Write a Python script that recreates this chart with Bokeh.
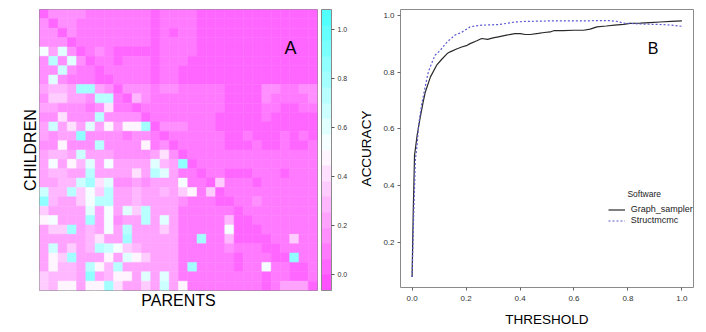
import numpy as np
from bokeh.plotting import figure
from bokeh.models import (LinearColorMapper, ColorBar, FixedTicker, Range1d, Label,
                          Legend, LegendItem, ColumnDataSource, PrintfTickFormatter)
from bokeh.transform import transform
from bokeh.layouts import row
from bokeh.embed import file_html
from bokeh.resources import INLINE

FONT = "Liberation Sans"

# ---------------- Panel A data: 30 x 30 matrix (rows = children, cols = parents) ----------------
heat_rows = [
    [0.0,0.14,0.14,0.14,0.14,0.12,0.12,0.12,0.12,0.12,0.12,0.12,0.06,0.1,0.1, 0.12,0.12,0.05,0.05,0.05,0.05,0.05,0.05,0.05,0.05,0.05,0.05,0.05,0.05,0.05],
    [0.14,0.0,0.14,0.14,0.12,0.12,0.1,0.1,0.1,0.1,0.1,0.1,0.06,0.1,0.1, 0.12,0.12,0.05,0.05,0.05,0.05,0.05,0.05,0.05,0.05,0.05,0.05,0.05,0.05,0.05],
    [0.14,0.14,0.0,0.14,0.12,0.12,0.1,0.1,0.1,0.1,0.1,0.1,0.05,0.1,0.05, 0.12,0.1,0.05,0.05,0.05,0.05,0.05,0.05,0.05,0.05,0.05,0.05,0.05,0.05,0.05],
    [0.15,0.15,0.15,0.0,0.12,0.1,0.1,0.1,0.1,0.1,0.1,0.1,0.05,0.1,0.1, 0.12,0.1,0.05,0.05,0.05,0.05,0.05,0.05,0.05,0.05,0.05,0.05,0.05,0.05,0.05],
    [0.55,0.2,0.6,0.15,0.02,0.08,0.15,0.1,0.05,0.05,0.05,0.05,0.05,0.08,0.08, 0.12,0.08,0.05,0.05,0.05,0.05,0.05,0.05,0.05,0.05,0.05,0.05,0.05,0.05,0.05],
    [0.15,0.7,0.15,0.6,0.15,0.02,0.1,0.12,0.05,0.1,0.12,0.1,0.05,0.1,0.1, 0.08,0.05,0.05,0.05,0.05,0.05,0.05,0.05,0.05,0.05,0.05,0.05,0.05,0.05,0.05],
    [0.15,0.15,0.68,0.15,0.12,0.1,0.02,0.1,0.1,0.1,0.1,0.1,0.05,0.1,0.1, 0.06,0.05,0.05,0.05,0.05,0.05,0.05,0.05,0.05,0.05,0.05,0.05,0.05,0.05,0.05],
    [0.15,0.58,0.15,0.12,0.1,0.1,0.05,0.02,0.1,0.1,0.1,0.1,0.05,0.1,0.1, 0.06,0.05,0.05,0.05,0.05,0.05,0.05,0.05,0.05,0.05,0.05,0.05,0.05,0.05,0.05],
    [0.25,0.28,0.28,0.25,0.8,0.8,0.2,0.15,0.02,0.15,0.15,0.15,0.1,0.15,0.15, 0.12,0.12,0.1,0.1,0.1,0.06,0.06,0.06,0.06,0.14,0.14,0.08,0.08,0.14,0.14],
    [0.15,0.32,0.32,0.2,0.2,0.15,0.72,0.72,0.12,0.02,0.3,0.15,0.1,0.12,0.12, 0.12,0.12,0.12,0.12,0.1,0.06,0.06,0.06,0.06,0.14,0.12,0.08,0.08,0.12,0.14],
    [0.2,0.2,0.15,0.15,0.15,0.12,0.15,0.42,0.12,0.1,0.02,0.12,0.1,0.1,0.1, 0.1,0.1,0.08,0.08,0.08,0.06,0.06,0.06,0.06,0.08,0.08,0.06,0.06,0.08,0.08],
    [0.15,0.15,0.4,0.15,0.15,0.15,0.75,0.15,0.15,0.15,0.15,0.02,0.1,0.1,0.1, 0.1,0.1,0.08,0.08,0.06,0.04,0.04,0.06,0.06,0.08,0.06,0.06,0.06,0.06,0.06],
    [0.2,0.65,0.2,0.4,0.25,0.62,0.2,0.5,0.25,0.45,0.45,0.8,0.02,0.15,0.15, 0.15,0.1,0.1,0.1,0.06,0.04,0.04,0.06,0.06,0.06,0.06,0.06,0.06,0.06,0.06],
    [0.2,0.15,0.2,0.2,0.85,0.15,0.15,0.15,0.15,0.12,0.15,0.15,0.12,0.02,0.12, 0.12,0.12,0.12,0.1,0.1,0.06,0.06,0.08,0.06,0.06,0.06,0.08,0.06,0.08,0.06],
    [0.15,0.15,0.45,0.15,0.15,0.15,0.7,0.15,0.15,0.15,0.15,0.5,0.1,0.15,0.02, 0.1,0.1,0.1,0.1,0.08,0.06,0.06,0.06,0.08,0.06,0.06,0.08,0.06,0.06,0.08],
    [0.2,0.3,0.3,0.2,0.65,0.2,0.2,0.2,0.15,0.15,0.15,0.15,0.2,0.4,0.15, 0.05,0.1,0.1,0.1,0.1,0.08,0.1,0.1,0.1,0.08,0.1,0.12,0.1,0.1,0.1],
    [0.25,0.55,0.25,0.5,0.3,0.62,0.2,0.52,0.25,0.2,0.2,0.2,0.62,0.3,0.2, 0.85,0.05,0.1,0.08,0.1,0.08,0.08,0.1,0.1,0.08,0.1,0.08,0.1,0.1,0.1],
    [0.2,0.3,0.3,0.25,0.25,0.72,0.2,0.25,0.2,0.2,0.4,0.2,0.72,0.62,0.2, 0.1,0.1,0.03,0.1,0.1,0.05,0.05,0.05,0.1,0.1,0.1,0.05,0.1,0.1,0.1],
    [0.25,0.25,0.3,0.3,0.65,0.8,0.42,0.6,0.15,0.15,0.2,0.15,0.2,0.2,0.2, 0.55,0.1,0.1,0.03,0.35,0.1,0.1,0.1,0.05,0.1,0.1,0.1,0.1,0.1,0.1],
    [0.68,0.3,0.3,0.7,0.38,0.52,0.35,0.72,0.2,0.25,0.3,0.25,0.2,0.3,0.2, 0.35,0.45,0.1,0.35,0.03,0.1,0.1,0.1,0.1,0.1,0.1,0.1,0.1,0.1,0.1],
    [0.85,0.3,0.25,0.25,0.35,0.55,0.72,0.72,0.25,0.25,0.3,0.25,0.2,0.25,0.2, 0.15,0.1,0.1,0.1,0.05,0.03,0.1,0.1,0.15,0.1,0.1,0.1,0.1,0.1,0.1],
    [0.35,0.25,0.25,0.25,0.2,0.58,0.2,0.55,0.2,0.6,0.35,0.7,0.25,0.2,0.2, 0.12,0.12,0.12,0.12,0.12,0.1,0.03,0.1,0.1,0.1,0.1,0.1,0.1,0.1,0.1],
    [0.45,0.55,0.25,0.25,0.25,0.78,0.25,0.55,0.15,0.2,0.25,0.75,0.25,0.58,0.2, 0.12,0.1,0.1,0.1,0.1,0.3,0.05,0.03,0.1,0.1,0.1,0.1,0.1,0.1,0.12],
    [0.25,0.35,0.35,0.8,0.25,0.3,0.25,0.55,0.2,0.7,0.2,0.2,0.2,0.35,0.2, 0.1,0.1,0.1,0.1,0.1,0.55,0.05,0.05,0.03,0.1,0.1,0.1,0.1,0.1,0.1],
    [0.25,0.25,0.25,0.25,0.25,0.3,0.4,0.25,0.25,0.8,0.2,0.25,0.2,0.25,0.2, 0.1,0.12,0.8,0.1,0.1,0.3,0.05,0.05,0.05,0.03,0.1,0.1,0.35,0.1,0.1],
    [0.25,0.65,0.25,0.35,0.25,0.3,0.72,0.65,0.52,0.38,0.3,0.2,0.2,0.2,0.2, 0.1,0.12,0.12,0.1,0.1,0.15,0.1,0.1,0.1,0.05,0.03,0.1,0.1,0.1,0.1],
    [0.25,0.45,0.35,0.8,0.25,0.25,0.25,0.45,0.2,0.6,0.45,0.35,0.2,0.2,0.2, 0.1,0.1,0.1,0.1,0.1,0.1,0.05,0.1,0.1,0.1,0.05,0.03,0.85,0.1,0.1],
    [0.25,0.45,0.3,0.3,0.25,0.7,0.5,0.3,0.7,0.2,0.2,0.25,0.2,0.25,0.2, 0.1,0.8,0.1,0.1,0.1,0.1,0.05,0.1,0.1,0.55,0.1,0.1,0.03,0.05,0.1],
    [0.35,0.3,0.3,0.3,0.25,0.85,0.25,0.3,0.5,0.5,0.2,0.62,0.2,0.58,0.2, 0.1,0.1,0.1,0.1,0.1,0.1,0.1,0.1,0.1,0.05,0.1,0.1,0.05,0.03,0.1],
    [0.35,0.3,0.45,0.45,0.25,0.45,0.45,0.8,0.4,0.25,0.2,0.35,0.2,0.65,0.2, 0.45,0.1,0.1,0.1,0.1,0.1,0.1,0.1,0.1,0.05,0.1,0.2,0.2,0.2,0.03],
]
cbar_ticks = [0.0, 0.2, 0.4, 0.6, 0.8, 1.0]

# ---------------- Panel B data: accuracy vs threshold ----------------
gs_threshold = [0.0, 0.004, 0.009, 0.019, 0.03, 0.04, 0.049, 0.068, 0.091, 0.11, 0.13, 0.141,
                0.167, 0.184, 0.204, 0.215, 0.24, 0.258, 0.28, 0.3, 0.32, 0.35, 0.381, 0.401,
                0.419, 0.438, 0.468, 0.49, 0.512, 0.527, 0.56, 0.6, 0.636, 0.66, 0.685, 0.72,
                0.75, 0.784, 0.808, 0.846, 0.88, 0.92, 0.96, 1.0]
gs_accuracy = [0.079, 0.30, 0.507, 0.58, 0.64, 0.69, 0.73, 0.783, 0.824, 0.845, 0.865, 0.871,
               0.882, 0.888, 0.894, 0.90, 0.91, 0.918, 0.915, 0.92, 0.924, 0.93, 0.935, 0.935,
               0.932, 0.932, 0.936, 0.939, 0.941, 0.946, 0.946, 0.947, 0.947, 0.951, 0.959, 0.962,
               0.965, 0.968, 0.971, 0.972, 0.974, 0.976, 0.978, 0.98]
sm_threshold = [0.0, 0.006, 0.012, 0.017, 0.025, 0.036, 0.048, 0.056, 0.06, 0.072, 0.085, 0.105,
                0.116, 0.13, 0.159, 0.18, 0.196, 0.215, 0.235, 0.258, 0.29, 0.32, 0.35, 0.381,
                0.42, 0.468, 0.52, 0.58, 0.64, 0.7, 0.734, 0.76, 0.784, 0.808, 0.85, 0.883,
                0.93, 0.96, 1.0]
sm_accuracy = [0.079, 0.30, 0.49, 0.53, 0.619, 0.69, 0.745, 0.783, 0.80, 0.83, 0.859, 0.877,
               0.89, 0.906, 0.93, 0.938, 0.947, 0.959, 0.962, 0.965, 0.966, 0.967, 0.971, 0.976,
               0.978, 0.979, 0.98, 0.98, 0.98, 0.981, 0.981, 0.978, 0.972, 0.971, 0.969, 0.968,
               0.967, 0.965, 0.961]
series_names = ["Graph_sampler", "Structmcmc"]
legend_title = "Software"
x_ticks = [0.0, 0.2, 0.4, 0.6, 0.8, 1.0]
y_ticks = [0.2, 0.4, 0.6, 0.8, 1.0]

# ---------------- palette (cm.colors-like, magenta -> white -> cyan) ----------------
N_BANDS = 18
S_MAX = 0.68
palette = []
for i in range(N_BANDS):
    t = i / (N_BANDS - 1)
    if t <= 0.5:
        s = S_MAX * (1 - t / 0.5)
        g = int(round(255 * (1 - s)))
        palette.append("#%02x%02x%02x" % (255, g, 255))
    else:
        s = S_MAX * ((t - 0.5) / 0.5)
        r = int(round(255 * (1 - s)))
        palette.append("#%02x%02x%02x" % (r, 255, 255))
mapper = LinearColorMapper(palette=palette, low=-0.064, high=1.08)

mat = np.array(heat_rows)
nr, nc = mat.shape
rr, cc = np.meshgrid(np.arange(nr), np.arange(nc), indexing="ij")
src = ColumnDataSource(dict(col=cc.ravel(), row=rr.ravel(), v=mat.ravel()))

p1 = figure(frame_width=278, frame_height=281, output_backend="svg", toolbar_location=None,
            x_range=Range1d(-0.5, nc - 0.5), y_range=Range1d(nr - 0.5, -0.5),
            min_border_left=39, min_border_right=36, min_border_top=8, min_border_bottom=39)
p1.rect(x="col", y="row", width=1, height=1, source=src,
        fill_color=transform("v", mapper), line_color=transform("v", mapper), line_width=0.5)
p1.grid.visible = False
p1.outline_line_color = "#8a8a8a"
p1.outline_line_width = 1
for ax, lab in ((p1.xaxis, "PARENTS"), (p1.yaxis, "CHILDREN")):
    ax.ticker = FixedTicker(ticks=[])
    ax.axis_label = lab
    ax.axis_label_text_font = FONT
    ax.axis_label_text_font_size = "16px"
    ax.axis_label_text_font_style = "normal"
    ax.axis_label_text_color = "black"
    ax.axis_label_standoff = 1
    ax.major_label_text_font_size = "0px"
    ax.major_label_standoff = 0
    ax.major_tick_out = 0
    ax.major_tick_in = 0
    ax.minor_tick_out = 0
    ax.minor_tick_in = 0
    ax.axis_line_color = None

cb = ColorBar(color_mapper=mapper, ticker=FixedTicker(ticks=cbar_ticks),
              formatter=PrintfTickFormatter(format="%.1f"), width=10,
              padding=0, margin=5, location=(4, 0),
              major_tick_in=0, major_tick_out=3, major_tick_line_color="#555555",
              minor_tick_line_color=None,
              bar_line_color="#8a8a8a", bar_line_width=1,
              major_label_text_font=FONT, major_label_text_font_size="7px",
              major_label_text_color="#333333", label_standoff=3,
              border_line_color=None, background_fill_alpha=0)
p1.add_layout(cb, "right")
p1.add_layout(Label(x=26.6, y=3.6, text="A", text_font=FONT, text_font_size="18px",
                    text_align="center", text_baseline="middle", text_color="black"))

# ---------------- Panel B ----------------
p2 = figure(frame_width=293, frame_height=278, output_backend="svg", toolbar_location=None,
            x_range=Range1d(-0.043, 1.043), y_range=Range1d(0.042, 1.02),
            min_border_left=47, min_border_right=5, min_border_top=9, min_border_bottom=41)
p2.grid.visible = False
p2.outline_line_color = "#8a8a8a"
p2.outline_line_width = 1
r_gs = p2.line(gs_threshold, gs_accuracy, line_color="#2a2a2a", line_width=1.2)
r_sm = p2.line(sm_threshold, sm_accuracy, line_color="#5a5ad0", line_width=1.2, line_dash="2 2")

p2.xaxis.ticker = FixedTicker(ticks=x_ticks)
p2.yaxis.ticker = FixedTicker(ticks=y_ticks)
for ax, lab in ((p2.xaxis, "THRESHOLD"), (p2.yaxis, "ACCURACY")):
    ax.formatter = PrintfTickFormatter(format="%.1f")
    ax.axis_label = lab
    ax.axis_label_text_font = FONT
    ax.axis_label_text_font_size = "13.5px"
    ax.axis_label_text_font_style = "normal"
    ax.axis_label_text_color = "black"
    ax.axis_label_standoff = 6
    ax.major_label_text_font = FONT
    ax.major_label_text_font_size = "8px"
    ax.major_label_text_color = "#333333"
    ax.major_label_standoff = 3
    ax.major_tick_out = 3
    ax.major_tick_in = 0
    ax.major_tick_line_color = "#666666"
    ax.minor_tick_line_color = None
    ax.axis_line_color = None
p2.yaxis.major_label_orientation = "horizontal"
p2.xaxis.major_label_standoff = 5
p2.xaxis.axis_label_standoff = 8

# legend: glyph samples from the legend, texts as labels next to them
legend = Legend(items=[LegendItem(label=" ", renderers=[r_gs]),
                       LegendItem(label=" ", renderers=[r_sm])],
                location=(208, 62), orientation="vertical",
                label_text_font=FONT, label_text_font_size="9px",
                glyph_width=17, glyph_height=9, label_height=9, label_width=2,
                label_standoff=0, spacing=2, padding=0, margin=0,
                border_line_color=None, background_fill_alpha=0)
p2.add_layout(legend)
for name, yv in zip(series_names, [0.317, 0.279]):
    p2.add_layout(Label(x=0.810, y=yv, text=name, text_font=FONT, text_font_size="9px",
                        text_align="left", text_baseline="middle", text_color="#222222"))
p2.add_layout(Label(x=0.798, y=0.371, text=legend_title, text_font=FONT, text_font_size="8.5px",
                    text_align="left", text_baseline="middle", text_color="#222222"))
p2.add_layout(Label(x=0.893, y=0.884, text="B", text_font=FONT, text_font_size="16px",
                    text_align="center", text_baseline="middle", text_color="black"))

layout = row(p1, p2)
open("out.html", "w").write(file_html(layout, INLINE))
